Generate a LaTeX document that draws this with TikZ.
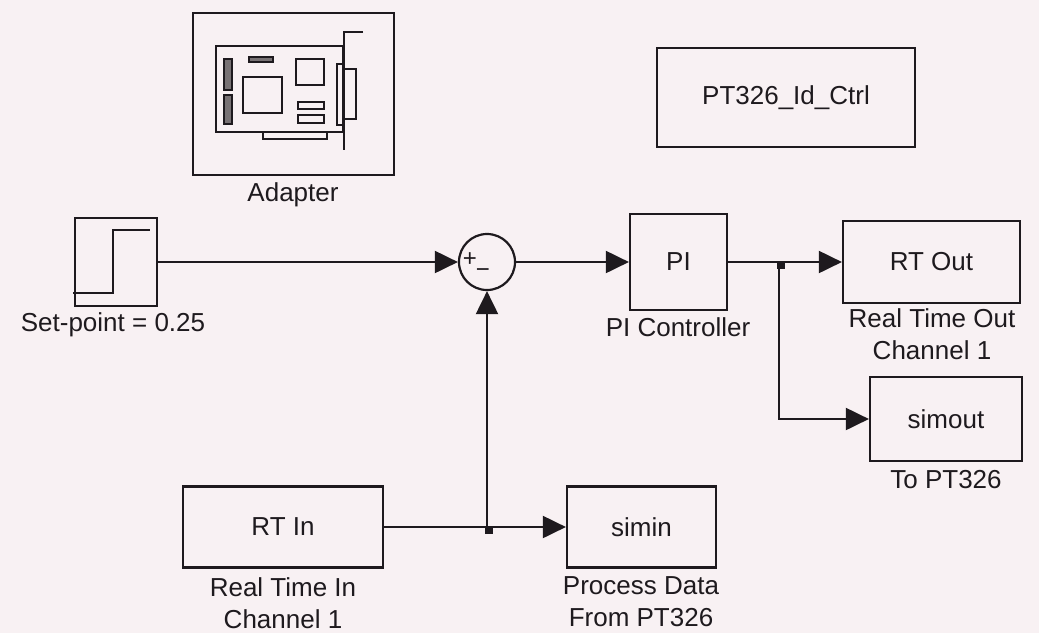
\documentclass[tikz,border=0pt]{standalone}
\usepackage{fontspec}
\setmainfont{Liberation Sans}
\usetikzlibrary{arrows.meta}
\definecolor{paper}{RGB}{248,241,243}
\definecolor{ink}{RGB}{30,26,30}
\definecolor{chip}{RGB}{120,114,116}
\begin{document}
\begin{tikzpicture}[x=1pt,y=-1pt,
  txt/.style={font=\fontsize{26}{32}\selectfont, text=ink},
  block/.style={draw=ink, line width=2.2pt, txt, inner sep=0pt},
  lbl/.style={txt, align=center, inner sep=0pt},
  wire/.style={draw=ink, line width=2pt},
  sig/.style={wire, -{Triangle[length=23pt,width=22pt]}},
  part/.style={draw=ink, line width=1.8pt},
  sign/.style={txt, font=\fontsize{24}{24}\selectfont, inner sep=0pt},
  junct/.style={fill=ink}]
\useasboundingbox[fill=paper] (0,0) rectangle (1039,633);

% --- blocks ---
\node[block, minimum width=201, minimum height=162] (adapter) at (293.5,94) {};
\node[block, minimum width=82, minimum height=88] (step) at (116,262) {};
\node[circle, draw=ink, line width=2.2pt, minimum size=56, inner sep=0pt] (sum) at (487,262) {};
\node[block, minimum width=97, minimum height=96] (pi) at (678.5,262) {PI};
\node[block, minimum width=177, minimum height=82] (rtout) at (931.5,262) {RT Out};
\node[block, minimum width=152, minimum height=84] (simout) at (946,419) {simout};
\node[block, minimum width=200, minimum height=81] (rtin) at (283,527) {RT In};
\node[block, minimum width=149, minimum height=81] (simin) at (641.5,527) {simin};
\node[block, minimum width=258, minimum height=99] (ctrl) at (786,97.5) {PT326\_Id\_Ctrl};

% --- block labels ---
\node[lbl] (adapterlbl) at (293,195) {Adapter};
\node[lbl] (steplbl) at (113,325) {Set-point = 0.25};
\node[lbl] (pilbl) at (678,327) {PI Controller};
\node[lbl] (rtoutlbl) at (932,334) {Real Time Out\\Channel 1};
\node[lbl] (simoutlbl) at (946,480) {To PT326};
\node[lbl] (rtinlbl) at (283,603) {Real Time In\\Channel 1};
\node[lbl] (siminlbl) at (641,602) {Process Data\\From PT326};

% --- sum signs ---
\node[sign] (plus) at (470,260) {+};
\node[sign] (minus) at (483,273) {−};

% --- step icon ---
\draw[wire] (73,293) -- (113,293) -- (113,230) -- (150,230);

% --- adapter card icon ---
\draw[part] (216,46) rectangle (343,132);
\draw[part] (363,32) -- (344,32) -- (344,150);
\draw[part] (337,64) rectangle (344,125);
\draw[part] (344,69) rectangle (356,119);
\draw[part] (263,132) rectangle (327,139);
\draw[part, fill=chip] (224,59) rectangle (232,90);
\draw[part, fill=chip] (224,95) rectangle (232,124);
\draw[part, fill=chip] (249,57) rectangle (273,62);
\draw[part] (243,77) rectangle (282,113);
\draw[part] (296,59) rectangle (324,85);
\draw[part] (298,102) rectangle (324,109);
\draw[part] (298,115) rectangle (324,123);

% --- branch points ---
\coordinate (j1) at (779,262);
\coordinate (j2) at (487,527);

% --- signal lines ---
\draw[sig] (step.east) -- (sum.west);
\draw[sig] (sum.east) -- (pi.west);
\draw[wire] (pi.east) -- (j1);
\draw[sig] (j1) -- (rtout.west);
\draw[sig] (j1) |- (simout.west);
\draw[wire] (rtin.east) -- (j2);
\draw[sig] (j2) -- (simin.west);
\draw[sig] (j2) -- (sum.south);
\fill[junct] (j1) ++(-2,-1) rectangle ++(8,8);
\fill[junct] (j2) ++(-2,-1) rectangle ++(8,8);
\end{tikzpicture}
\end{document}
